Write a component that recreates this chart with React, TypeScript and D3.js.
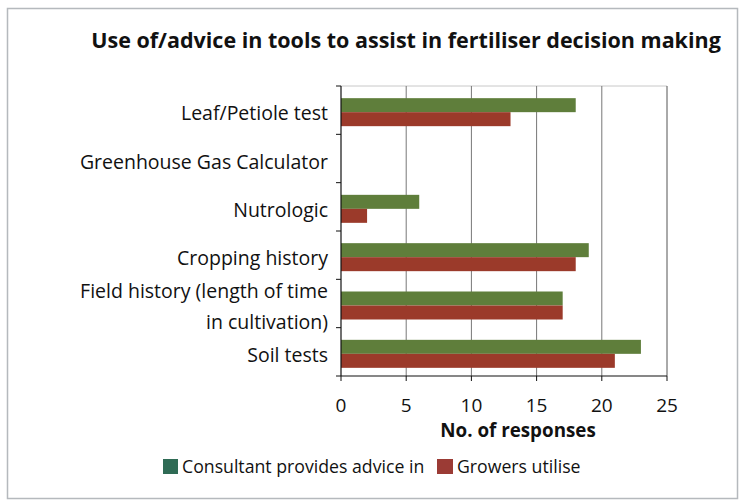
import React from "react";
import * as d3 from "d3";

const categories = [
  "Leaf/Petiole test",
  "Greenhouse Gas Calculator",
  "Nutrologic",
  "Cropping history",
  "Field history (length of time|in cultivation)",
  "Soil tests",
];
const consultant = [18, 0, 6, 19, 17, 23];
const growers = [13, 0, 2, 18, 17, 21];
const xTicks = [0, 5, 10, 15, 20, 25];
const seriesNames = ["Consultant provides advice in", "Growers utilise"];

const W = 741;
const H = 504;
const FONT = "'Open Sans', Lato, sans-serif";

export default function App() {
  const left = 341;
  const right = 667;
  const top = 86;
  const bottom = 376;
  const x = d3.scaleLinear().domain([0, 25]).range([left, right]);
  const y = d3.scaleBand<number>().domain(d3.range(categories.length)).range([top, bottom]).paddingInner(0).paddingOuter(0);
  const bw = y.bandwidth();
  const barH = 14;
  const barColors = ["#5f7e3b", "#9b3a2a"];
  const legendColors = ["#2f6b55", "#9b3b35"];

  return (
    <svg width={W} height={H} style={{ position: "absolute", left: 0, top: 0, background: "#fff" }}>
      <rect x={7.5} y={8.5} width={730} height={490} fill="#fff" stroke="#b5b9bd" strokeWidth={1.5} />
      <text x={406} y={48} textAnchor="middle" fontFamily={FONT} fontWeight={700} fontSize={21.5} fill="#111">
        Use of/advice in tools to assist in fertiliser decision making
      </text>
      <line x1={left} x2={right} y1={top} y2={top} stroke="#c8c8c8" strokeWidth={1} />
      {xTicks.slice(1).map((t) => (
        <line key={t} x1={x(t)} x2={x(t)} y1={top} y2={bottom} stroke={t === 25 ? "#555" : "#777"} strokeWidth={1} />
      ))}
      {categories.map((c, i) => {
        const c0 = (y(i) as number) + bw / 2 + 2;
        return (
          <g key={c}>
            {consultant[i] > 0 && (
              <rect x={x(0)} y={c0 - barH} width={x(consultant[i]) - x(0)} height={barH} fill={barColors[0]} />
            )}
            {growers[i] > 0 && (
              <rect x={x(0)} y={c0} width={x(growers[i]) - x(0)} height={barH} fill={barColors[1]} />
            )}
          </g>
        );
      })}
      <line x1={left} x2={left} y1={top} y2={bottom} stroke="#111" strokeWidth={1.2} />
      <line x1={left} x2={right} y1={bottom} y2={bottom} stroke="#111" strokeWidth={1.2} />
      {d3.range(categories.length + 1).map((i) => {
        const yy = top + i * bw;
        return <line key={i} x1={left - 5} x2={left} y1={yy} y2={yy} stroke="#111" strokeWidth={1} />;
      })}
      {xTicks.map((t) => (
        <g key={t}>
          <line x1={x(t)} x2={x(t)} y1={bottom} y2={bottom + 5} stroke="#111" strokeWidth={1} />
          <text x={x(t)} y={412} textAnchor="middle" fontFamily={FONT} fontSize={19} fill="#111">
            {t}
          </text>
        </g>
      ))}
      <text x={x(12.5) + 14} y={437} textAnchor="middle" fontFamily={FONT} fontWeight={700} fontSize={18.8} fill="#111">
        No. of responses
      </text>
      {categories.map((c, i) => {
        const lines = c.split("|");
        const cy = (y(i) as number) + bw / 2 + (lines.length > 1 ? 4 : 4);
        const lh = 31;
        return (
          <text key={c} textAnchor="end" fontFamily={FONT} fontSize={19.5} fill="#111">
            {lines.map((l, j) => (
              <tspan key={j} x={328} y={cy + 6 + (j - (lines.length - 1) / 2) * lh}>
                {l}
              </tspan>
            ))}
          </text>
        );
      })}
      <rect x={163} y={459} width={15} height={15} fill={legendColors[0]} />
      <text x={182} y={473} fontFamily={FONT} fontSize={17.7} fill="#111">
        {seriesNames[0]}
      </text>
      <rect x={437} y={459} width={16} height={15} fill={legendColors[1]} />
      <text x={457} y={473} fontFamily={FONT} fontSize={17.7} fill="#111">
        {seriesNames[1]}
      </text>
    </svg>
  );
}
